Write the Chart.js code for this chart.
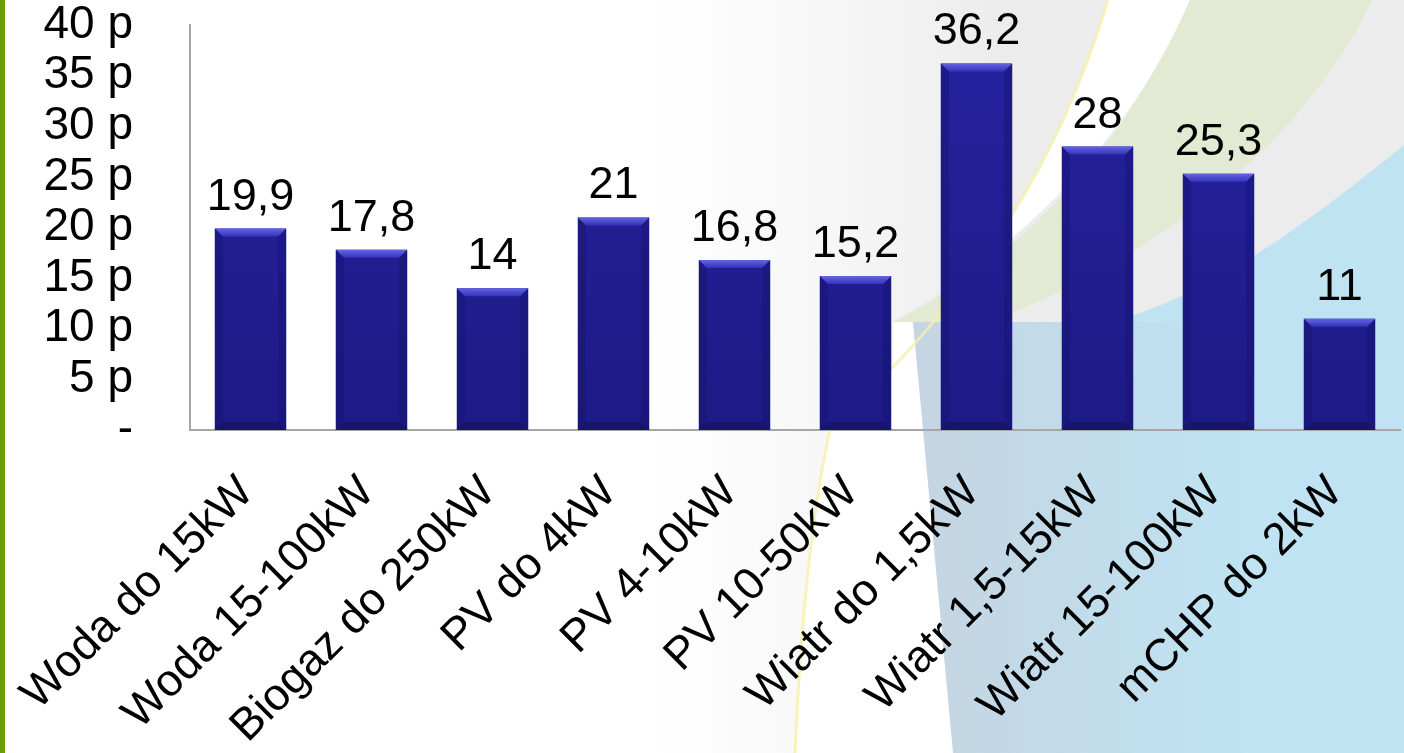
<!DOCTYPE html>
<html>
<head>
<meta charset="utf-8">
<script src="https://cdn.jsdelivr.net/npm/chart.js@4.4.1/dist/chart.umd.min.js"></script>
<style>
  html, body { margin: 0; padding: 0; background: #ffffff; }
  #wrap { width: 1404px; height: 753px; position: relative; }
  canvas { display: block; }
</style>
</head>
<body>
<div id="wrap"><canvas id="c" width="1404" height="753"></canvas></div>
<script>
// ---- data ----
const categories = [
  "Woda do 15kW", "Woda 15-100kW", "Biogaz do 250kW", "PV do 4kW", "PV 4-10kW",
  "PV 10-50kW", "Wiatr do 1,5kW", "Wiatr 1,5-15kW", "Wiatr 15-100kW", "mCHP do 2kW"
];
const values = [19.9, 17.8, 14, 21, 16.8, 15.2, 36.2, 28, 25.3, 11];
const valueLabels = ["19,9", "17,8", "14", "21", "16,8", "15,2", "36,2", "28", "25,3", "11"];
const yTickValues = [0, 5, 10, 15, 20, 25, 30, 35, 40];
const yTickLabels = ["-", "5 p", "10 p", "15 p", "20 p", "25 p", "30 p", "35 p", "40 p"];

const FONT = "'Liberation Sans', Arial, sans-serif";

// decorative slide background
const bgPlugin = {
  id: 'bg',
  beforeDraw(chart) {
    const ctx = chart.ctx;
    const W = chart.width, H = chart.height;
    ctx.save();
    ctx.fillStyle = '#ffffff';
    ctx.fillRect(0, 0, W, H);

    // soft gray haze in the middle
    let g = ctx.createLinearGradient(640, 0, 1000, 0);
    g.addColorStop(0, 'rgba(242,242,242,0)');
    g.addColorStop(1, 'rgba(236,236,236,1)');
    ctx.fillStyle = g;
    ctx.beginPath();
    ctx.moveTo(640, 0); ctx.lineTo(1108, 0);
    ctx.bezierCurveTo(1060, 160, 980, 290, 830, 430);
    ctx.bezierCurveTo(810, 520, 800, 640, 795, 753);
    ctx.lineTo(640, 753); ctx.closePath();
    ctx.fill();

    // upper right gray area
    ctx.fillStyle = '#ececec';
    ctx.beginPath();
    ctx.moveTo(1190, 0); ctx.lineTo(1404, 0); ctx.lineTo(1404, 322);
    ctx.lineTo(893, 322);
    ctx.bezierCurveTo(1000, 260, 1120, 160, 1190, 0);
    ctx.fill();

    // pale green band
    ctx.fillStyle = '#e3ead3';
    ctx.beginPath();
    ctx.moveTo(1190, 0); ctx.lineTo(1372, 0);
    ctx.bezierCurveTo(1300, 150, 1150, 260, 990, 322);
    ctx.lineTo(893, 322);
    ctx.bezierCurveTo(1010, 265, 1120, 160, 1190, 0);
    ctx.fill();

    // light blue region on the right (above the panel line)
    ctx.fillStyle = '#c0e3f2';
    ctx.beginPath();
    ctx.moveTo(1404, 145);
    ctx.bezierCurveTo(1300, 230, 1200, 300, 1110, 322);
    ctx.lineTo(1404, 322); ctx.closePath();
    ctx.fill();

    // white notch + lower panel
    ctx.fillStyle = '#ffffff';
    ctx.beginPath();
    ctx.moveTo(893, 322); ctx.lineTo(913, 322); ctx.lineTo(953, H); ctx.lineTo(893, H);
    ctx.closePath();
    ctx.fill();
    g = ctx.createLinearGradient(910, 0, 1250, 0);
    g.addColorStop(0, '#c5d4e2');
    g.addColorStop(0.45, '#c2dbe9');
    g.addColorStop(1, '#bfe3f2');
    ctx.fillStyle = g;
    ctx.beginPath();
    ctx.moveTo(913, 322); ctx.lineTo(1404, 322); ctx.lineTo(1404, H); ctx.lineTo(953, H);
    ctx.closePath();
    ctx.fill();

    // thin yellow line
    ctx.strokeStyle = 'rgba(246,240,170,0.8)';
    ctx.lineWidth = 3;
    ctx.beginPath();
    ctx.moveTo(1108, 0);
    ctx.bezierCurveTo(1060, 160, 980, 290, 830, 430);
    ctx.bezierCurveTo(810, 520, 800, 640, 795, 753);
    ctx.stroke();

    // green stripe on the left
    ctx.fillStyle = '#6b9e06';
    ctx.fillRect(0, 0, 5, H);
    ctx.restore();
  }
};

// bevel + value labels drawn from bar elements computed by Chart.js
const barDeco = {
  id: 'barDeco',
  afterDatasetsDraw(chart) {
    const ctx = chart.ctx;
    const meta = chart.getDatasetMeta(0);
    ctx.save();
    meta.data.forEach((bar, i) => {
      const left = bar.x - bar.width / 2, right = bar.x + bar.width / 2;
      const top = bar.y, bottom = bar.base;
      const b = 8;
      // top bevel
      let g = ctx.createLinearGradient(0, top, 0, top + b);
      g.addColorStop(0, '#6464e6');
      g.addColorStop(1, '#3532b8');
      ctx.fillStyle = g;
      ctx.beginPath();
      ctx.moveTo(left, top); ctx.lineTo(right, top);
      ctx.lineTo(right - b, top + b); ctx.lineTo(left + b, top + b);
      ctx.closePath(); ctx.fill();
      // side bevels
      ctx.fillStyle = 'rgba(20,18,100,0.35)';
      ctx.beginPath();
      ctx.moveTo(left, top); ctx.lineTo(left + b, top + b);
      ctx.lineTo(left + b, bottom - b); ctx.lineTo(left, bottom);
      ctx.closePath(); ctx.fill();
      ctx.beginPath();
      ctx.moveTo(right, top); ctx.lineTo(right - b, top + b);
      ctx.lineTo(right - b, bottom - b); ctx.lineTo(right, bottom);
      ctx.closePath(); ctx.fill();
      // bottom bevel
      ctx.fillStyle = 'rgba(15,14,80,0.45)';
      ctx.beginPath();
      ctx.moveTo(left, bottom); ctx.lineTo(right, bottom);
      ctx.lineTo(right - b, bottom - b); ctx.lineTo(left + b, bottom - b);
      ctx.closePath(); ctx.fill();
      // value label
      ctx.fillStyle = '#000000';
      ctx.font = '45px ' + FONT;
      ctx.textAlign = 'center';
      ctx.textBaseline = 'alphabetic';
      ctx.fillText(valueLabels[i], bar.x, top - 19);
    });
    ctx.restore();
  }
};

new Chart(document.getElementById('c'), {
  type: 'bar',
  data: {
    labels: categories,
    datasets: [{
      data: values,
      backgroundColor(context) {
        const ch = context.chart;
        const area = ch.chartArea;
        if (!area) return '#22209a';
        const g = ch.ctx.createLinearGradient(0, area.top, 0, area.bottom);
        g.addColorStop(0, '#2522a0');
        g.addColorStop(1, '#1d1b86');
        return g;
      },
      borderWidth: 0,
      barPercentage: 0.59,
      categoryPercentage: 1.0
    }]
  },
  options: {
    responsive: false,
    animation: false,
    events: [],
    layout: { padding: { top: 25, right: 4, left: 0, bottom: 0 } },
    plugins: { legend: { display: false }, tooltip: { enabled: false } },
    scales: {
      x: {
        grid: { display: false, drawTicks: false },
        border: { display: true, color: '#a6a6a6', width: 2 },
        ticks: {
          color: '#000000',
          font: { size: 45, family: FONT },
          minRotation: 45,
          maxRotation: 45,
          autoSkip: false,
          padding: 36,
          labelOffset: -4
        },
        afterFit(scale) {
          scale.height = 323;
          scale.paddingLeft = 0;
          scale.paddingRight = 0;
        }
      },
      y: {
        min: 0,
        max: 40,
        grid: { display: false, drawTicks: false },
        border: { display: true, color: '#a6a6a6', width: 2 },
        afterBuildTicks(scale) {
          scale.ticks = yTickValues.map(v => ({ value: v }));
        },
        ticks: {
          color: '#000000',
          font: { size: 46, family: FONT },
          padding: 57,
          autoSkip: false,
          callback(value, index) { return yTickLabels[index]; }
        },
        afterFit(scale) {
          scale.width = 190;
          scale.paddingTop = 0;
          scale.paddingBottom = 0;
        }
      }
    }
  },
  plugins: [bgPlugin, barDeco]
});
</script>
</body>
</html>
